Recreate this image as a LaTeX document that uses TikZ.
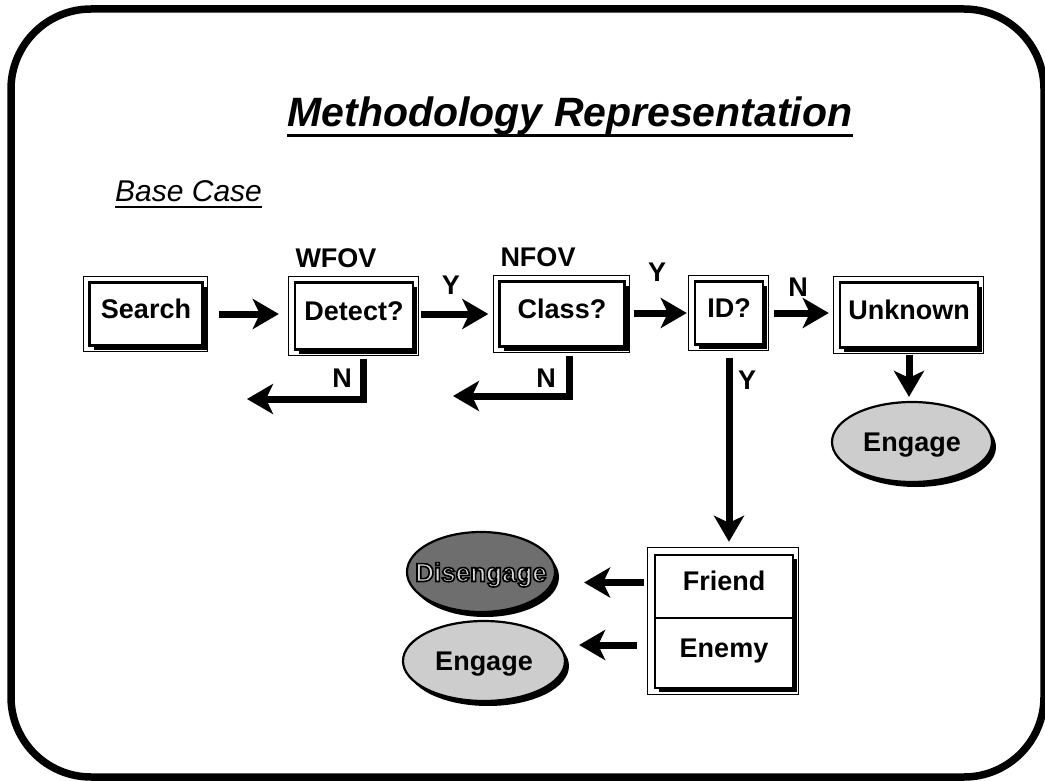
\documentclass[tikz,border=0pt]{standalone}
\usepackage{fontspec}
\setmainfont{Liberation Sans}
\usetikzlibrary{arrows.meta,shadows,backgrounds,shapes.geometric}
\definecolor{lightfill}{HTML}{CDCDCD}
\definecolor{darkfill}{HTML}{6E6E6E}
\definecolor{disengtext}{HTML}{D8D8D8}
\newcommand{\elltext}[1]{\smash{\makebox[0pt]{\raisebox{-9.5pt}{#1}}}}
\newcommand{\outlined}[1]{\special{pdf:literal direct 2 Tr 1.6 w 0 G}#1\special{pdf:literal direct 0 Tr}}
\begin{document}
\begin{tikzpicture}[x=1pt,y=-1pt,
  lbl/.style={font=\fontsize{27}{32}\selectfont\bfseries, inner sep=0pt},
  box/.style={draw, line width=2.4pt, fill=white, minimum height=63pt, inner sep=0pt,
    text height=19pt, text depth=11pt,
    font=\fontsize{27}{32}\selectfont\bfseries,
    drop shadow={shadow xshift=4pt, shadow yshift=-4pt, opacity=1, fill=black}},
  frm/.style={line width=1pt},
  ell/.style={ellipse, draw, line width=2.2pt, inner sep=0pt, minimum height=80pt,
    text height=0pt, text depth=0pt,
    font=\fontsize{27}{32}\selectfont\bfseries,
    drop shadow={shadow xshift=4pt, shadow yshift=-5pt, opacity=1, fill=black}},
  arr/.style={line width=7pt, line join=miter, -{Stealth[length=26pt,width=30pt,inset=7pt]}}
]
\useasboundingbox (0,0) rectangle (1045,781);
% frame
\draw[line width=7.5pt, rounded corners=80pt] (11,9) rectangle (1044,777);

% title
\node[font=\fontsize{41}{48}\selectfont\bfseries\itshape, anchor=base, inner sep=0pt] (title) at (570,127) {Methodology Representation};
\draw[line width=3pt] ([yshift=-9pt]title.base west) -- ([yshift=-9pt]title.base east);
\node[font=\fontsize{30}{36}\selectfont\itshape, anchor=base west, inner sep=0pt] (basecase) at (115,201) {Base Case};
\draw[line width=1.5pt] ([yshift=-6pt]basecase.base west) -- ([yshift=-6pt]basecase.base east);

% boxes
\node[box, minimum width=113pt] (search) at (146,314) {Search};
\node[box, minimum width=118pt, minimum height=67pt] (detect) at (354,316) {Detect?};
\node[box, minimum width=125pt, minimum height=65pt] (class) at (562,314) {Class?};
\node[box, minimum width=68pt] (id) at (729,313) {ID?};
\node[box, minimum width=138pt, minimum height=65pt] (unknown) at (909,315) {Unknown};
\foreach \n in {search,detect,class,id,unknown}{
  \draw[frm] ([xshift=-5pt,yshift=5pt]\n.north west) rectangle ([xshift=4pt,yshift=-5pt]\n.south east);
}

\node[box, minimum width=138pt, minimum height=63pt] (friend) at (724,586.5) {Friend};
\node[box, minimum width=138pt, minimum height=70pt] (enemy) at (724,653) {Enemy};
\draw[frm] ([xshift=-6pt,yshift=6pt]friend.north west) rectangle ([xshift=4pt,yshift=-5pt]enemy.south east);

% ellipses
\node[ell, fill=lightfill, minimum width=160pt] (engage1) at (912,442) {\elltext{Engage}};
\node[ell, fill=darkfill, minimum width=148pt] (diseng) at (481,572) {\elltext{\fontsize{26}{30}\selectfont\textcolor{disengtext}{\outlined{Disengage}}}};
\node[ell, fill=lightfill, minimum width=162pt] (engage2) at (484,661) {\elltext{Engage}};

% labels
\node[lbl] (wfov) at (336,258) {WFOV};
\node[lbl] (nfov) at (538,257) {NFOV};
\node[lbl] (y1) at (451,285) {Y};
\node[lbl] (y2) at (657,272) {Y};
\node[lbl] (n3) at (798,287) {N};
\node[lbl] (y3) at (747,380) {Y};
\node[lbl] (n1) at (342,378) {N};
\node[lbl] (n2) at (546,378) {N};

% arrows
\draw[arr, shorten <=15pt, shorten >=15pt] (search.east) -- (search.east -| detect.west);
\draw[arr, shorten <=7pt, shorten >=10pt] (detect.east |- class.west) -- (class.west);
\draw[arr, shorten <=8pt, shorten >=7pt] (class.east |- id.west) -- (id.west);
\draw[arr, shorten <=10pt, shorten >=10pt] (id.east) -- (id.east -| unknown.west);
\draw[arr, shorten <=6pt, shorten >=4pt] (unknown.south) -- (unknown.south |- engage1.north);
\draw[arr, shorten <=12pt, shorten >=12pt] (id.south) -- (id.south |- friend.north);

\coordinate (dnx) at (363,399);
\coordinate (dnend) at (247,399);
\draw[arr, shorten <=8pt] (dnx |- detect.south) -- (dnx) -- (dnend);
\coordinate (cnx) at (569,396);
\coordinate (cnend) at (453,396);
\draw[arr, shorten <=8pt] (cnx |- class.south) -- (cnx) -- (cnend);

\draw[arr, shorten <=10pt, shorten >=28pt] ([yshift=4pt]friend.west) -- ([yshift=4pt]friend.west -| diseng.east);
\draw[arr, shorten <=17pt, shorten >=13pt] ([yshift=8pt]enemy.west) -- ([yshift=8pt]enemy.west -| engage2.east);
\end{tikzpicture}
\end{document}
